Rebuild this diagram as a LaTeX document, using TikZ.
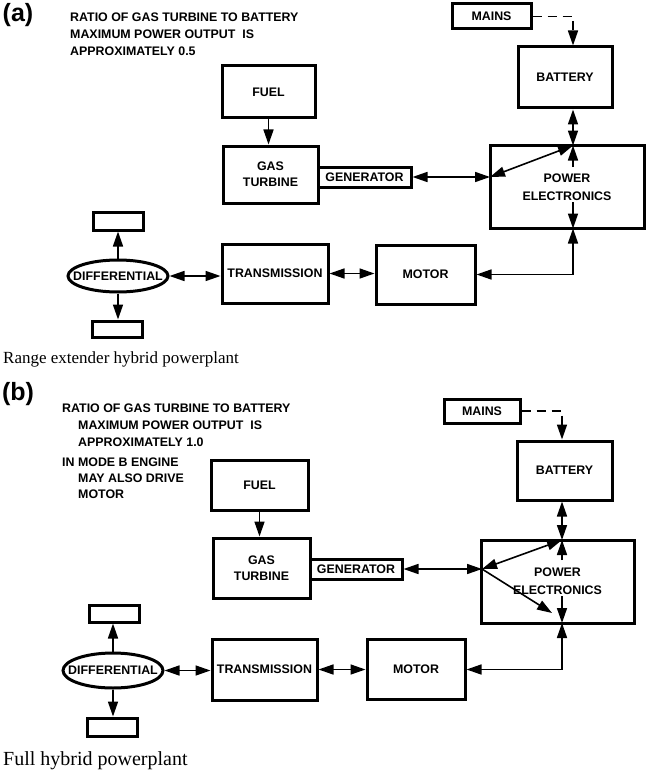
\documentclass[tikz,border=0pt]{standalone}
\usepackage{fontspec}
\setmainfont{Liberation Serif}
\newfontfamily\plantfont{Liberation Sans}
\usetikzlibrary{arrows.meta,shapes.geometric}

\tikzset{
  unit/.style={draw,line width=3pt,inner sep=0pt,align=center,
    font=\plantfont\bfseries\fontsize{12.4}{16}\selectfont},
  wheel/.style={draw,line width=3pt,inner sep=0pt,minimum width=50pt},
  diff/.style={draw,ellipse,line width=3pt,inner sep=0pt,minimum width=100pt,
    font=\plantfont\bfseries\fontsize{12.4}{16}\selectfont},
  link/.style={line width=1.6pt,>={Triangle[length=15pt,width=10pt]}},
  mainsline/.style={link,dash pattern=on 9pt off 6pt},
  note/.style={anchor=north west,align=left,inner sep=0pt,
    font=\plantfont\bfseries\fontsize{12.4}{17}\selectfont},
  panel/.style={font=\plantfont\bfseries\fontsize{25}{28}\selectfont},
  caption/.style={anchor=base west,inner sep=0pt,font=\fontsize{17}{20}\selectfont}
}

\begin{document}
\begin{tikzpicture}[x=1pt,y=-1pt]
\useasboundingbox (0,0) rectangle (648,773);

% (a) range extender hybrid
\node[panel] (labA) at (18,15) {(a)};
\node[note] (noteA) at (70,12.5) {RATIO OF GAS TURBINE TO BATTERY\\MAXIMUM POWER OUTPUT\ \ IS\\APPROXIMATELY 0.5};
\node[unit,minimum width=93pt,minimum height=52pt] (fuelA) at (268.5,92) {FUEL};
\node[unit,minimum width=95pt,minimum height=57pt] (turbA) at (270.5,174.5) {GAS\\TURBINE};
\node[unit,minimum width=93pt,minimum height=20pt] (genA) at (364.5,177) {GENERATOR};
\node[unit,minimum width=79pt,minimum height=25pt] (mainsA) at (491.5,16.5) {MAINS};
\node[unit,minimum width=94pt,minimum height=61pt] (battA) at (565,77.5) {BATTERY};
\node[unit,minimum width=154pt,minimum height=83pt] (powA) at (567,187) {POWER\\[2pt]ELECTRONICS};
\node[unit,minimum width=106pt,minimum height=59pt] (transA) at (275,273.5) {TRANSMISSION};
\node[unit,minimum width=99pt,minimum height=59pt] (motA) at (425.5,274.5) {MOTOR};
\node[diff,minimum height=32pt] (diffA) at (118,276) {\makebox[0pt]{DIFFERENTIAL}};
\node[wheel,minimum height=18pt] (whlupA) at (118,221) {};
\node[wheel,minimum height=16pt] (whldnA) at (117,329) {};
\node[caption] (capA) at (3,363) {Range extender hybrid powerplant};

\coordinate (jtopA) at (573,145.5);
\coordinate (jleftA) at (490,177);
\coordinate (jbotA) at (573,228.5);
\coordinate (pinA) at (573,167);
\coordinate (poutA) at (573,202);

\draw[link,->] (fuelA.south) -- (fuelA.south |- turbA.north);
\draw[mainsline,->] (mainsA.east) -| (jtopA |- battA.north);
\draw[link,<->] (jtopA |- battA.south) -- (jtopA);
\draw[link,->] (pinA) -- (jtopA);
\draw[link,<->] (jleftA) -- (jtopA);
\draw[link,<->] (genA.east) -- (jleftA);
\draw[link,->] (poutA) -- (jbotA);
\draw[link,<->] (motA.east) -| (jbotA);
\draw[link,<->] (transA.east) -- (transA.east -| motA.west);
\draw[link,<->] (diffA.east) -- (diffA.east -| transA.west);
\draw[link,->] (diffA.north) -- (whlupA.south);
\draw[link,->] (diffA.south) -- (diffA.south |- whldnA.north);

% (b) full hybrid
\node[panel] (labB) at (18,394) {(b)};
\node[note] (noteB) at (62,403.5) {RATIO OF GAS TURBINE TO BATTERY\\\hspace*{16pt}MAXIMUM POWER OUTPUT\ \ IS\\\hspace*{16pt}APPROXIMATELY 1.0};
\node[note,font=\plantfont\bfseries\fontsize{12.4}{16}\selectfont] (modeB) at (62,457.5) {IN MODE B ENGINE\\\hspace*{16pt}MAY ALSO DRIVE\\\hspace*{16pt}MOTOR};
\node[unit,minimum width=97pt,minimum height=50pt] (fuelB) at (259.5,485) {FUEL};
\node[unit,minimum width=97pt,minimum height=60pt] (turbB) at (261.5,568) {GAS\\TURBINE};
\node[unit,minimum width=92pt,minimum height=20pt] (genB) at (356,569) {GENERATOR};
\node[unit,minimum width=76pt,minimum height=24pt] (mainsB) at (482,411) {MAINS};
\node[unit,minimum width=95pt,minimum height=59pt] (battB) at (564.5,470.5) {BATTERY};
\node[unit,minimum width=153pt,minimum height=83pt] (powB) at (557.5,581.5) {POWER\\[2pt]ELECTRONICS};
\node[unit,minimum width=105pt,minimum height=61pt] (transB) at (264.5,669.5) {TRANSMISSION};
\node[unit,minimum width=98pt,minimum height=60pt] (motB) at (416,669.5) {MOTOR};
\node[diff,minimum height=35pt] (diffB) at (113,670.5) {\makebox[0pt]{DIFFERENTIAL}};
\node[wheel,minimum height=17pt] (whlupB) at (114,613.5) {};
\node[wheel,minimum height=18pt] (whldnB) at (112,727) {};
\node[caption,font=\fontsize{20}{23}\selectfont] (capB) at (3,765) {Full hybrid powerplant};

\coordinate (jtopB) at (562,540);
\coordinate (jleftB) at (482,569);
\coordinate (jbotB) at (562,623);
\coordinate (jtipB) at (552,613);
\coordinate (pinB) at (562,560);
\coordinate (poutB) at (562,596);

\draw[link,->] (fuelB.south) -- (fuelB.south |- turbB.north);
\draw[mainsline,->] (mainsB.east) -| (jtopB |- battB.north);
\draw[link,<->] (jtopB |- battB.south) -- (jtopB);
\draw[link,->] (pinB) -- (jtopB);
\draw[link,<->] (jleftB) -- (jtopB);
\draw[link,->] (jleftB) -- (jtipB);
\draw[link,<->] (genB.east) -- (jleftB);
\draw[link,->] (poutB) -- (jbotB);
\draw[link,<->] (motB.east) -| (jbotB);
\draw[link,<->] (transB.east) -- (transB.east -| motB.west);
\draw[link,<->] (diffB.east) -- (diffB.east -| transB.west);
\draw[link,->] (diffB.north) -- (diffB.north |- whlupB.south);
\draw[link,->] (diffB.south) -- (diffB.south |- whldnB.north);
\end{tikzpicture}
\end{document}
